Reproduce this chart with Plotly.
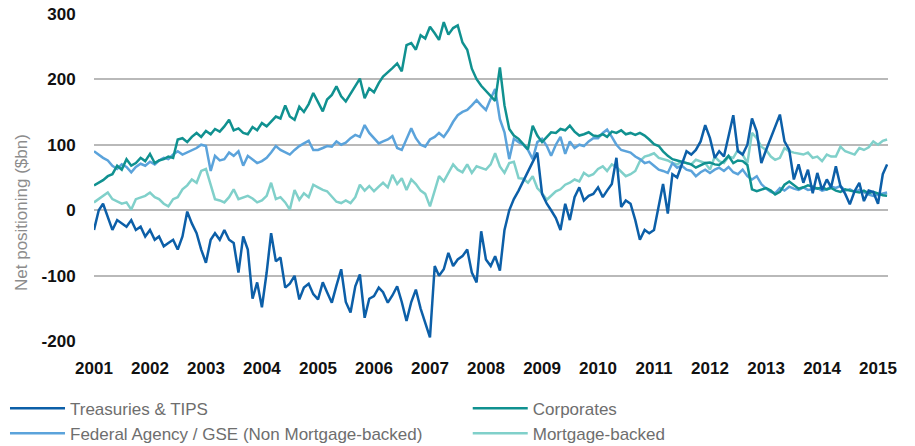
import pandas as pd
import plotly.graph_objects as go

# monthly readings (1st of month), Jan 2001 .. Mar 2015, $bn
treasuries = [
    -30, 0, 10, -10, -30, -15, -20, -25, -15, -30, -25, -40,          # 2001
    -30, -45, -40, -55, -50, -45, -60, -40, -2, -20, -35, -60,        # 2002
    -80, -45, -35, -45, -30, -45, -50, -95, -40, -60, -135, -110,     # 2003
    -148, -95, -35, -78, -72, -118, -112, -100, -136, -118, -112, -128,  # 2004
    -136, -110, -125, -141, -115, -90, -140, -156, -116, -98, -164, -135,  # 2005
    -131, -118, -125, -141, -130, -116, -140, -169, -140, -121, -150, -170,  # 2006
    -194, -85, -100, -90, -65, -85, -75, -70, -60, -95, -110, -32,    # 2007
    -75, -85, -70, -92, -30, 0, 17, 30, 45, 60, 75, 88,               # 2008
    25, 10, 0, -12, -30, 10, -15, 20, 35, 15, 22, 25,                 # 2009
    35, 20, 30, 40, 80, 5, 15, 10, -15, -45, -30, -35,                # 2010
    -30, 10, 40, -5, 55, 50, 70, 90, 85, 92, 105, 130,                # 2011
    110, 80, 90, 82, 113, 145, 90, 85, 100, 140, 120, 72,             # 2012
    92, 110, 128, 146, 105, 92, 47, 70, 42, 62, 26, 57,               # 2013
    31, 47, 35, 67, 37, 25, 9, 29, 42, 14, 30, 28,                    # 2014
    10, 55, 70,                                                       # 2015
]

corporates = [
    38, 42, 46, 52, 55, 68, 62, 78, 68, 72, 80, 75,
    86, 72, 76, 78, 82, 80, 108, 110, 104, 112, 118, 112,
    121, 116, 124, 120, 128, 138, 122, 125, 118, 116, 127, 122,
    133, 128, 135, 143, 140, 160, 143, 138, 158, 150, 162, 179,
    165, 151, 169, 176, 189, 174, 166, 178, 191, 201, 171, 186,
    180, 194, 204, 210, 217, 224, 212, 252, 255, 245, 267, 262,
    280, 270, 260, 287, 268, 278, 282, 256, 245, 216, 200, 190,
    182, 175, 167, 218, 160, 124, 114, 109, 100, 93, 129, 114,
    104, 112, 119, 118, 124, 122, 129, 120, 114, 116, 119, 114,
    113, 116, 112, 120, 118, 122, 116, 118, 115, 118, 114, 108,
    101, 98, 90, 83, 78, 76, 74, 73, 70, 65, 68, 72,
    73, 70, 69, 75, 83, 72, 76, 75, 69, 32, 29, 31,
    34, 30, 24, 28, 39, 44, 38, 33, 35, 38, 36, 33,
    35, 32, 34, 30, 28, 32, 30, 29, 27, 30, 26, 28,
    25, 23, 22,
]

federal_agency = [
    90, 84, 80, 76, 68, 63, 70, 66, 58, 66, 71, 68,
    74, 70, 76, 80, 78, 85, 90, 85, 88, 92, 95, 100,
    98, 60, 83, 76, 78, 88, 83, 90, 68, 83, 78, 72,
    75, 80, 88, 98, 92, 88, 85, 92, 98, 102, 106, 92,
    92, 95, 98, 97, 105, 100, 103, 110, 115, 112, 130, 118,
    110, 102, 105, 108, 113, 95, 92, 108, 125, 110, 100, 97,
    108, 112, 118, 112, 122, 135, 145, 150, 153, 160, 168, 160,
    153, 170, 185, 139, 119, 78, 109, 104, 100, 92, 78, 104,
    109, 98, 83, 100, 112, 86, 105, 95, 100, 98, 105, 110,
    110, 118, 123, 112, 100, 92, 90, 88, 82, 78, 72, 74,
    68, 62, 60, 57, 72, 65, 68, 62, 60, 52, 58, 62,
    57, 62, 65, 60, 66, 58, 55, 62, 52, 47, 52, 40,
    33, 28, 26, 34, 30, 36, 33, 31, 35, 31, 32, 34,
    30, 32, 36, 34, 37, 30, 32, 28, 31, 27, 24, 22,
    24, 26, 27,
]

mortgage_backed = [
    12, 17, 22, 27, 17, 14, 10, 12, 1, 17, 20, 22,
    27, 20, 17, 10, 6, 17, 20, 32, 38, 47, 42, 60,
    63, 37, 17, 15, 12, 20, 32, 17, 20, 22, 18, 12,
    15, 22, 42, 17, 20, 12, 1, 31, 16, 26, 20, 39,
    35, 31, 29, 21, 13, 11, 15, 11, 20, 39, 30, 37,
    29, 36, 42, 35, 54, 40, 49, 31, 47, 40, 30, 25,
    6, 30, 52, 44, 57, 70, 62, 58, 70, 57, 67, 64,
    62, 70, 87, 67, 57, 72, 74, 49, 48, 42, 52, 34,
    26, 16, 22, 29, 32, 39, 42, 47, 44, 57, 52, 55,
    63, 67, 60, 70, 66, 59, 52, 55, 60, 75, 82, 84,
    87, 80, 78, 76, 72, 70, 74, 72, 70, 77, 74, 72,
    62, 82, 75, 72, 82, 80, 92, 85, 72, 118, 110, 97,
    92, 82, 77, 80, 95, 90, 88, 87, 85, 88, 80, 82,
    75, 85, 82, 82, 97, 90, 88, 85, 95, 92, 96, 105,
    100, 106, 108,
]

dates = pd.date_range("2001-01-01", periods=len(treasuries), freq="MS")

y_ticks = [300, 200, 100, 0, -100, -200]
y_tick_text = ["300", "200", "100", "0", "-100", "-200"]

series = [
    # name, values, colour, legend, rank
    ("Mortgage-backed", mortgage_backed, "#80d0ca", "legend2", 2),
    ("Federal Agency / GSE (Non Mortgage-backed)", federal_agency, "#5ba3db", "legend", 2),
    ("Corporates", corporates, "#109190", "legend2", 1),
    ("Treasuries & TIPS", treasuries, "#0c5fa8", "legend", 1),
]

fig = go.Figure()
for name, vals, col, leg, rank in series:
    fig.add_trace(go.Scatter(x=dates, y=vals, name=name, mode="lines",
                             line=dict(color=col, width=2.5),
                             legend=leg, legendrank=rank))

font_fam = "Liberation Sans, Arial, sans-serif"
leg_style = dict(orientation="v", xanchor="left", yanchor="top",
                 yref="container", y=0.124, bgcolor="rgba(0,0,0,0)",
                 font=dict(size=17, color="#6e6e6e"),
                 itemwidth=55, tracegroupgap=0, traceorder="normal")

fig.update_layout(
    width=915, height=446,
    margin=dict(l=94, r=27, t=13, b=104, autoexpand=False),
    paper_bgcolor="white", plot_bgcolor="white",
    font=dict(family=font_fam),
    showlegend=True,
    legend=dict(x=-0.1121, **leg_style),
    legend2=dict(x=0.4707, **leg_style),
)

fig.update_xaxes(
    range=["2001-01-01", "2015-03-07"],
    tick0="2001-01-01", dtick="M12", tickformat="%Y",
    showgrid=False, zeroline=False, showline=False,
    ticks="outside", ticklen=11, tickcolor="rgba(0,0,0,0)",
    tickfont=dict(size=17, color="#111111", weight="bold"),
)
fig.update_yaxes(
    range=[-201, 301],
    tickvals=y_ticks, ticktext=y_tick_text,
    showgrid=True, gridcolor="#b9b9b9", gridwidth=1.5,
    zeroline=False, showline=False,
    ticks="outside", ticklen=14, tickcolor="rgba(0,0,0,0)",
    tickfont=dict(size=17, color="#111111", weight="bold"),
)

fig.add_annotation(
    text="Net positioning ($bn)", textangle=-90,
    xref="paper", yref="paper", x=-0.092, y=0.395,
    xanchor="center", yanchor="middle", showarrow=False,
    font=dict(size=17, color="#8c8c8c"),
)

# page body has an 8px default margin; drop it so the figure fills the window
fig.write_html("out.html", config={"displayModeBar": False},
               post_script="document.body.style.margin='0';")
